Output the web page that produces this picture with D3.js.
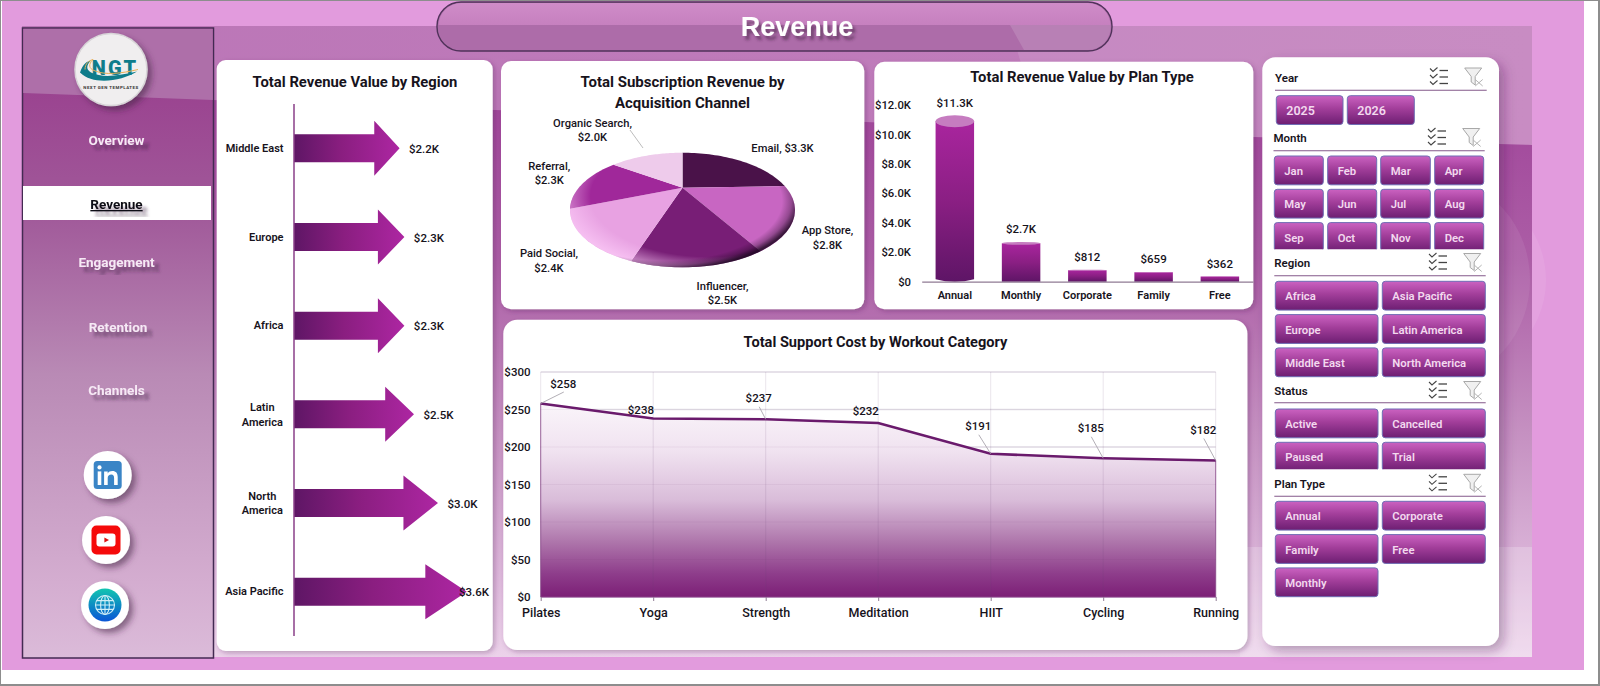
<!DOCTYPE html>
<html>
<head>
<meta charset="utf-8">
<script src="https://cdn.jsdelivr.net/npm/d3@7/dist/d3.min.js"></script>
<style>
  html, body { margin: 0; padding: 0; background: #fff; overflow: hidden; }
  svg { display: block; }
  text { font-family: Roboto, "Noto Sans", sans-serif; }
</style>
</head>
<body>
<svg id="dash" width="1600" height="686"></svg>
<script>
// ---- Data ----
const regionNames = ["Middle East", "Europe", "Africa", "Latin America", "North America", "Asia Pacific"];
const regionRevenue = [2.2, 2.3, 2.3, 2.5, 3.0, 3.6];

const channelNames = ["Email", "App Store", "Influencer", "Paid Social", "Referral", "Organic Search"];
const channelRevenue = [3.3, 2.8, 2.5, 2.4, 2.3, 2.0];

const planNames = ["Annual", "Monthly", "Corporate", "Family", "Free"];
const planRevenue = [11300, 2700, 812, 659, 362];
const planTicks = [0, 2000, 4000, 6000, 8000, 10000, 12000];

const workoutNames = ["Pilates", "Yoga", "Strength", "Meditation", "HIIT", "Cycling", "Running"];
const supportCost = [258, 238, 237, 232, 191, 185, 182];
const costTicks = [0, 50, 100, 150, 200, 250, 300];

const menuItems = ["Overview", "Revenue", "Engagement", "Retention", "Channels"];
const yearOptions = ["2025", "2026"];
const monthOptions = ["Jan", "Feb", "Mar", "Apr", "May", "Jun", "Jul", "Aug", "Sep", "Oct", "Nov", "Dec"];
const regionOptions = ["Africa", "Asia Pacific", "Europe", "Latin America", "Middle East", "North America"];
const statusOptions = ["Active", "Cancelled", "Paused", "Trial"];
const planOptions = ["Annual", "Corporate", "Family", "Free", "Monthly"];

// ---- Palette ----
const PINK = "#e29bdd";
const INK = "#17131c";
const pieColors = ["#4a1249", "#c866c2", "#781e76", "#e8a2e2", "#a0289a", "#eecbeb"];

const svg = d3.select("#dash");
const defs = svg.append("defs");

function linearGradient(id, stops, x2 = 0, y2 = 1, units) {
  const g = defs.append("linearGradient").attr("id", id)
    .attr("x1", 0).attr("y1", 0).attr("x2", x2).attr("y2", y2);
  if (units) g.attr("gradientUnits", units.type).attr("x1", units.x1).attr("y1", units.y1).attr("x2", units.x2).attr("y2", units.y2);
  stops.forEach(([o, c, a]) => g.append("stop").attr("offset", o).attr("stop-color", c).attr("stop-opacity", a === undefined ? 1 : a));
}
function dropShadow(id, dx, dy, blur, color, opacity) {
  defs.append("filter").attr("id", id).attr("x", "-30%").attr("y", "-30%").attr("width", "160%").attr("height", "160%")
    .append("feDropShadow").attr("dx", dx).attr("dy", dy).attr("stdDeviation", blur)
    .attr("flood-color", color).attr("flood-opacity", opacity);
}

linearGradient("panelLower", [[0, "#a0459a"], [0.3, "#ac5ea6"], [0.6, "#c590c1"], [0.85, "#dcb6da"], [1, "#ecd2ea"]]);
linearGradient("panelUpper", [[0, "#bb76b7"], [1, "#c27fbd"]], 1, 0);
linearGradient("sidebarFill", [[0, "#97388b"], [0.3, "#a15a9a"], [0.55, "#b98ab5"], [0.88, "#d4add0"], [1, "#dbbbd9"]]);
linearGradient("arrowFill", [[0, "#5e1665"], [0.45, "#8a1e80"], [1, "#ad26a2"]], 1, 0);
linearGradient("cylinderFill", [[0, "#a9259e"], [0.5, "#8a1f83"], [1, "#5e1566"]]);
linearGradient("buttonFill", [[0, "#cb62c1"], [0.45, "#a23e9a"], [1, "#6d1e72"]]);
linearGradient("pillUpper", [[0, "#cf8cc8"], [1, "#c680bf"]]);
linearGradient("globeFill", [[0, "#12c5b0"], [1, "#0a55d6"]]);
dropShadow("cardShadow", 2, 2, 2.5, "#4a1a50", 0.3);
dropShadow("bigShadow", 5, 5, 6, "#4a1a50", 0.35);
dropShadow("iconShadow", 4, 4, 3, "#3c1a40", 0.55);
dropShadow("titleShadow", 3, 4, 1.6, "#3c1a40", 0.55);
dropShadow("menuShadow", 5, 5, 1.4, "#3c1a40", 0.5);

// ---- Page background ----
svg.append("rect").attr("width", 1600).attr("height", 686).attr("fill", "#8d8d8d");
svg.append("rect").attr("x", 1).attr("y", 1).attr("width", 1597).attr("height", 683).attr("fill", "#fff");
svg.append("rect").attr("x", 2).attr("y", 1).attr("width", 1582).attr("height", 669).attr("fill", PINK);

const panel = { x: 22, y: 26, r: 1532, b: 657 };
svg.append("ellipse").attr("cx", 1440).attr("cy", 280).attr("rx", 106).attr("ry", 100).attr("fill", "#fff").attr("opacity", 0.08);
svg.append("rect").attr("x", panel.x).attr("y", panel.y).attr("width", panel.r - panel.x).attr("height", panel.b - panel.y).attr("fill", "url(#panelUpper)");

// Darker swoosh that sweeps across the panel behind the cards
const swooshTop = [[22, 93], [213, 100], [495, 110], [865, 122], [1253, 137], [1532, 145]];
const swooshArea = d3.area().x(d => d[0]).y0(panel.b).y1(d => d[1]).curve(d3.curveMonotoneX);
svg.append("path").attr("d", swooshArea(swooshTop)).attr("fill", "url(#panelLower)");
svg.append("path").attr("d", "M1010,26 L1532,26 L1532,145 L1253,137 L1040,128 Z").attr("fill", "#fff").attr("opacity", 0.1);
svg.append("ellipse").attr("cx", 1440).attr("cy", 280).attr("rx", 90).attr("ry", 100).attr("fill", "#fff").attr("opacity", 0.07);
svg.append("rect").attr("x", 1240).attr("y", 547).attr("width", 292).attr("height", 110).attr("fill", "#fff").attr("opacity", 0.22);

// ---- Title pill ----
const pill = svg.append("g");
pill.append("rect").attr("x", 437).attr("y", 2).attr("width", 675).attr("height", 49).attr("rx", 24)
  .attr("fill", "#ad6ca9").attr("stroke", "#50325a").attr("stroke-width", 1.4);
pill.append("path").attr("d", "M438.5,25 A23,23 0 0 1 461,3 L1088,3 A23,23 0 0 1 1110.5,25 Z").attr("fill", "url(#pillUpper)");
pill.append("path").attr("d", "M1010,25 L1110.5,25 A23,23 0 0 1 1088,50 L1024,50 Z").attr("fill", "#fff").attr("opacity", 0.14);
pill.append("text").attr("x", 797).attr("y", 35.5).attr("text-anchor", "middle").attr("fill", "#fff")
  .style("font-family", "'Liberation Sans', sans-serif").style("font-weight", 700).style("font-size", "27px")
  .attr("filter", "url(#titleShadow)").text("Revenue");

// ---- Sidebar ----
const side = svg.append("g");
side.append("rect").attr("x", 22.5).attr("y", 28).attr("width", 191).attr("height", 630)
  .attr("fill", "url(#sidebarFill)").attr("stroke", "#432a52").attr("stroke-width", 1.5);
side.append("path").attr("d", "M23.2,28.8 L212.8,28.8 L212.8,100 L23.2,93 Z").attr("fill", "#ae6fa9");
side.append("rect").attr("x", 23).attr("y", 186).attr("width", 188).attr("height", 34).attr("fill", "#fff");

const menuRow = { Overview: 140, Revenue: 204, Engagement: 261.5, Retention: 327, Channels: 390 };
side.selectAll("text.menu").data(menuItems).join("text")
  .attr("class", "menu")
  .attr("x", d => d === "Retention" ? 118 : 116.5)
  .attr("y", d => menuRow[d] + 5)
  .attr("text-anchor", "middle")
  .attr("fill", d => d === "Revenue" ? "#101014" : "#f6e9f5")
  .attr("text-decoration", d => d === "Revenue" ? "underline" : null)
  .attr("filter", "url(#menuShadow)")
  .style("font-weight", 700).style("font-size", "13.5px")
  .text(d => d);

// Company badge
const logo = side.append("g").attr("transform", "translate(111,69.5)");
logo.append("circle").attr("r", 36).attr("fill", "#f0eeef").attr("stroke", "#d8d5d8").attr("stroke-width", 1.5).attr("filter", "url(#iconShadow)");
logo.append("text").attr("x", 4).attr("y", 5).attr("text-anchor", "middle").attr("fill", "#0f7c8b")
  .style("font-weight", 900).style("font-size", "20px").style("letter-spacing", "2px").text("NGT");
logo.append("path").attr("d", "M-31,3 C-28,-6 -24,-8 -20,-9 C-25,-4 -25,0 -20,3 C-8,9 8,6 26,2 C10,12 -18,16 -31,3 Z").attr("fill", "#0f7c8b");
logo.append("path").attr("d", "M-26,0 C-26,-6 -22,-9 -18,-10 C-23,-5 -22,-1 -17,1 C-6,6 10,4 27,0").attr("fill", "none").attr("stroke", "#e8b057").attr("stroke-width", 1);
logo.append("text").attr("x", 0).attr("y", 19).attr("text-anchor", "middle").attr("fill", "#333")
  .style("font-weight", 700).style("font-size", "4.4px").style("letter-spacing", "0.5px").text("NEXT GEN TEMPLATES");

// Social buttons
function socialBadge(cx, cy, draw) {
  const g = side.append("g").attr("transform", `translate(${cx},${cy})`);
  g.append("circle").attr("r", 24).attr("fill", "#fff").attr("filter", "url(#iconShadow)");
  draw(g);
}
socialBadge(107.7, 475, g => {
  g.append("rect").attr("x", -14).attr("y", -14).attr("width", 28).attr("height", 28).attr("rx", 3.5).attr("fill", "#3a85c6");
  g.append("circle").attr("cx", -8.2).attr("cy", -7.6).attr("r", 2.1).attr("fill", "#fff");
  g.append("rect").attr("x", -10).attr("y", -3.6).attr("width", 3.6).attr("height", 13.6).attr("fill", "#fff");
  g.append("path").attr("d", "M-3.6,-3.6 H0 V-1.6 C1,-3.2 2.6,-4 4.6,-4 C8.4,-4 10,-1.8 10,2 V10 H6.4 V3 C6.4,0.8 5.6,-0.6 3.6,-0.6 C1.4,-0.6 0,0.8 0,3 V10 H-3.6 Z").attr("fill", "#fff");
});
socialBadge(106, 540, g => {
  g.append("rect").attr("x", -14.5).attr("y", -14.5).attr("width", 29).attr("height", 29).attr("rx", 5).attr("fill", "#f50a0a");
  g.append("rect").attr("x", -9.5).attr("y", -6.5).attr("width", 19).attr("height", 13).attr("rx", 3).attr("fill", "#fff");
  g.append("path").attr("d", "M-1.6,-2.6 L3,0 L-1.6,2.6 Z").attr("fill", "#d11");
});
socialBadge(105, 605, g => {
  g.append("circle").attr("r", 16.5).attr("fill", "url(#globeFill)");
  const lines = g.append("g").attr("fill", "none").attr("stroke", "#cfeef7").attr("stroke-width", 1.1);
  lines.append("circle").attr("r", 9.5);
  lines.append("ellipse").attr("rx", 4.4).attr("ry", 9.5);
  lines.append("path").attr("d", "M0,-9.5 V9.5 M-9.5,0 H9.5 M-8.4,-4.4 H8.4 M-8.4,4.4 H8.4");
});

// ---- Cards ----
function card(x, y, r, b, rx, filter) {
  return svg.append("rect").attr("x", x).attr("y", y).attr("width", r - x).attr("height", b - y)
    .attr("rx", rx).attr("fill", "#fff").attr("filter", `url(#${filter})`);
}
card(216.7, 60, 492.7, 651, 9, "cardShadow");
card(501, 61, 864.3, 309.3, 10, "cardShadow");
card(874.3, 61.7, 1253.3, 309.3, 10, "cardShadow");
card(503.3, 319.7, 1247.4, 650, 14, "cardShadow");
card(1262.3, 57.3, 1499, 646, 13, "bigShadow");

function chartTitle(lines, cx, y, lineGap, size) {
  const t = svg.append("g");
  lines.forEach((s, i) => t.append("text").attr("x", cx).attr("y", y + i * lineGap).attr("text-anchor", "middle")
    .attr("fill", INK).style("font-weight", 700).style("font-size", size + "px").text(s));
}

// ---- Revenue by region: horizontal block arrows ----
chartTitle(["Total Revenue Value by Region"], 355, 86.5, 0, 14.8);
const regionX = d3.scaleLinear().domain([0, 3.6]).range([294, 466.8]);
const regionY = d3.scaleBand().domain(regionNames).range([104, 636]);
const arrowHalf = 14, headHalf = 27.5, headShare = 0.24;
const arrowLine = d3.line();
const regionG = svg.append("g");
regionG.selectAll("path.arrow").data(regionNames).join("path")
  .attr("class", "arrow")
  .attr("fill", "url(#arrowFill)")
  .attr("d", (d, i) => {
    const x0 = regionX(0), tip = regionX(regionRevenue[i]);
    const neck = tip - (tip - x0) * headShare;
    const cy = regionY(d) + regionY.bandwidth() / 2;
    return arrowLine([[x0, cy - arrowHalf], [neck, cy - arrowHalf], [neck, cy - headHalf], [tip, cy], [neck, cy + headHalf], [neck, cy + arrowHalf], [x0, cy + arrowHalf]]) + "Z";
  });
regionG.append("line").attr("x1", regionX(0)).attr("x2", regionX(0)).attr("y1", 104).attr("y2", 636)
  .attr("stroke", "#8a3f88").attr("stroke-width", 1.5);
regionG.selectAll("text.val").data(regionNames).join("text")
  .attr("class", "val")
  .attr("x", (d, i) => Math.min(regionX(regionRevenue[i]) + 24.5, 474))
  .attr("y", d => regionY(d) + regionY.bandwidth() / 2 + 4.5)
  .attr("text-anchor", "middle").attr("fill", INK)
  .style("font-weight", 500).style("font-size", "11.5px")
  .text((d, i) => `$${regionRevenue[i].toFixed(1)}K`);
regionNames.forEach(name => {
  const cy = regionY(name) + regionY.bandwidth() / 2;
  const isWrapped = name === "Latin America" || name === "North America";
  const parts = isWrapped ? name.split(" ") : [name];
  parts.forEach((p, i) => {
    regionG.append("text")
      .attr("x", isWrapped ? 262.3 : 283.5)
      .attr("y", cy + 4 + (isWrapped ? (i - 0.5) * 14.5 : -0.5))
      .attr("text-anchor", isWrapped ? "middle" : "end")
      .attr("fill", INK).style("font-weight", 600).style("font-size", "11px").text(p);
  });
});

// ---- Subscription revenue by channel: tilted pie ----
chartTitle(["Total Subscription Revenue by", "Acquisition Channel"], 682.5, 87, 21, 15);
const pieBox = { cx: 682.5, cy: 210, rx: 112.5, ry: 57.3, apexY: 187.7 };
const slices = d3.pie().sort(null)(channelRevenue);
// Angles are foreshortened by the tilt, so the near side of the rim opens up
const tilted = a => a - 0.22 * Math.sin(a);
const rimPoint = a => {
  const t = tilted(a);
  return [pieBox.cx + pieBox.rx * Math.sin(t), pieBox.cy - pieBox.ry * Math.cos(t)];
};
const pieLine = d3.line();
const pieG = svg.append("g");
pieG.selectAll("path.slice").data(slices).join("path")
  .attr("class", "slice")
  .attr("fill", (d, i) => pieColors[i])
  .attr("d", d => {
    const n = 40;
    const rim = d3.range(n + 1).map(k => rimPoint(d.startAngle + (d.endAngle - d.startAngle) * k / n));
    return pieLine([[pieBox.cx, pieBox.apexY], ...rim]) + "Z";
  });
const lightRim = defs.append("radialGradient").attr("id", "rimLight").attr("cx", 0.62).attr("cy", 0.38).attr("r", 0.66);
[[0, 0], [0.8, 0], [1, 0.6]].forEach(([o, a]) => lightRim.append("stop").attr("offset", o).attr("stop-color", "#ffd2fb").attr("stop-opacity", a));
const darkRim = defs.append("radialGradient").attr("id", "rimDark").attr("cx", 0.42).attr("cy", 0.42).attr("r", 0.6);
[[0, 0], [0.87, 0], [0.94, 0.3], [1, 0.8]].forEach(([o, a]) => darkRim.append("stop").attr("offset", o).attr("stop-color", "#16041a").attr("stop-opacity", a));
["rimLight", "rimDark"].forEach(id => pieG.append("ellipse")
  .attr("cx", pieBox.cx).attr("cy", pieBox.cy).attr("rx", pieBox.rx).attr("ry", pieBox.ry).attr("fill", `url(#${id})`));

// Label block positions around the pie, relative to its apex
const pieLabelOffsets = [[100, -40], [145, 42.5], [40, 98], [-133.5, 65.5], [-133.2, -21.7], [-90, -65]];
channelNames.forEach((name, i) => {
  const [dx, dy] = pieLabelOffsets[i];
  const value = `$${channelRevenue[i].toFixed(1)}K`;
  const rows = name === "Email" ? [`${name}, ${value}`] : [`${name},`, value];
  rows.forEach((row, r) => pieG.append("text")
    .attr("x", pieBox.cx + dx).attr("y", pieBox.apexY + dy + 4 + r * 14.4)
    .attr("text-anchor", "middle").attr("fill", INK)
    .style("font-weight", 500).style("font-size", "11.2px").text(row));
});
pieG.append("line").attr("x1", 630).attr("y1", 130).attr("x2", 643).attr("y2", 148).attr("stroke", "#bdbdbd").attr("stroke-width", 1);

// ---- Revenue by plan type: cylinder columns ----
chartTitle(["Total Revenue Value by Plan Type"], 1082, 81.5, 0, 14.8);
const planX = d3.scaleBand().domain(planNames).range([921.7, 1253]);
const planY = d3.scaleLinear().domain([0, 12000]).range([281.7, 105]);
const planMoney = d => d === 0 ? "$0" : `$${(d / 1000).toFixed(1)}K`;
const planValue = d => d >= 1000 ? `$${(d / 1000).toFixed(1)}K` : `$${d}`;
const barG = svg.append("g");
const cylinderW = 38.5;
planNames.forEach((name, i) => {
  const v = planRevenue[i];
  const cx = planX(name) + planX.bandwidth() / 2;
  const base = planY(0), top = planY(v);
  // The cap flattens as columns get shorter, as it would seen from a fixed eye level
  const capRy = (base - top) * 0.036;
  const capY = top + capRy;
  const l = cx - cylinderW / 2, r = cx + cylinderW / 2;
  const footRy = (base - top) > 60 ? 2.5 : 0;
  barG.append("path")
    .attr("d", `M${l},${capY} L${l},${base - footRy} Q${cx},${base + footRy} ${r},${base - footRy} L${r},${capY} Z`)
    .attr("fill", "url(#cylinderFill)");
  barG.append("ellipse").attr("cx", cx).attr("cy", capY).attr("rx", cylinderW / 2).attr("ry", capRy).attr("fill", "#c67cc0");
  barG.append("text").attr("x", cx).attr("y", top - 13 + 4.5).attr("text-anchor", "middle").attr("fill", INK)
    .style("font-weight", 500).style("font-size", "11.5px").text(planValue(v));
});
const planAxisY = barG.append("g").attr("transform", "translate(911,0)")
  .call(d3.axisLeft(planY).tickValues(planTicks).tickFormat(planMoney).tickSize(0).tickPadding(0));
planAxisY.select(".domain").remove();
planAxisY.selectAll("text").attr("fill", INK).style("font-family", "Roboto").style("font-size", "11.3px").style("font-weight", 500);
const planAxisX = barG.append("g").attr("transform", `translate(0,${planY(0)})`)
  .call(d3.axisBottom(planX).tickSize(0).tickPadding(10));
planAxisX.select(".domain").attr("stroke", "#8f7a93").attr("stroke-width", 1.2);
planAxisX.selectAll("text").attr("fill", INK).style("font-family", "Roboto").style("font-size", "11px").style("font-weight", 600);

// ---- Support cost by workout category: area ----
chartTitle(["Total Support Cost by Workout Category"], 875.5, 346.5, 0, 14.6);
const costX = d3.scalePoint().domain(workoutNames).range([540.7, 1215.7]);
const costY = d3.scaleLinear().domain([0, 300]).range([597, 372]);
linearGradient("areaFill",
  [[0, "#faf5fa"], [0.25, "#f0e2f0"], [0.5, "#d9bcd9"], [0.72, "#ad74aa"], [0.88, "#8e3d8b"], [1, "#7c1f76"]],
  0, 1, { type: "userSpaceOnUse", x1: 0, y1: costY(258), x2: 0, y2: costY(0) });
const areaG = svg.append("g");
const costPoints = workoutNames.map((n, i) => ({ n, v: supportCost[i] }));
areaG.selectAll("line.hgrid").data(costTicks.slice(1)).join("line").attr("class", "hgrid")
  .attr("x1", costX.range()[0]).attr("x2", costX.range()[1]).attr("y1", d => costY(d)).attr("y2", d => costY(d))
  .attr("stroke", "#e4e0e8").attr("stroke-width", 1.4);
areaG.append("path")
  .attr("d", d3.area().x(d => costX(d.n)).y0(costY(0)).y1(d => costY(d.v))(costPoints))
  .attr("fill", "url(#areaFill)").attr("stroke", "#8d4a8c").attr("stroke-width", 0.8);
// Faint grid lines carried over the fill
areaG.selectAll("line.hgridOver").data(costTicks.slice(1)).join("line").attr("class", "hgridOver")
  .attr("x1", costX.range()[0]).attr("x2", costX.range()[1]).attr("y1", d => costY(d)).attr("y2", d => costY(d))
  .attr("stroke", "#6b4a70").attr("stroke-opacity", 0.07).attr("stroke-width", 1.2);
areaG.selectAll("line.vgrid").data(workoutNames).join("line").attr("class", "vgrid")
  .attr("x1", d => costX(d)).attr("x2", d => costX(d)).attr("y1", costY(300)).attr("y2", costY(0))
  .attr("stroke", "#6b4a70").attr("stroke-opacity", 0.14).attr("stroke-width", 1);
areaG.append("path")
  .attr("d", d3.line().x(d => costX(d.n)).y(d => costY(d.v))(costPoints))
  .attr("fill", "none").attr("stroke", "#6a1a6c").attr("stroke-width", 2.6);

const costAxisY = areaG.append("g").attr("transform", "translate(530.5,0)")
  .call(d3.axisLeft(costY).tickValues(costTicks).tickFormat(d => `$${d}`).tickSize(0).tickPadding(0));
costAxisY.select(".domain").remove();
costAxisY.selectAll("text").attr("fill", INK).style("font-family", "Roboto").style("font-size", "11.5px").style("font-weight", 500);
const costAxisX = areaG.append("g").attr("transform", `translate(0,${costY(0)})`)
  .call(d3.axisBottom(costX).tickSize(4).tickPadding(7).tickSizeOuter(0));
costAxisX.select(".domain").attr("stroke", "#b58ab8").attr("stroke-width", 1.2);
costAxisX.selectAll("line").attr("stroke", "#8f7a93");
costAxisX.selectAll("text").attr("fill", INK).style("font-family", "Roboto").style("font-size", "12.5px").style("font-weight", 500);

// Data labels sit where they stay clear of the line; far ones get a leader
const costLabelOffsets = [[22.6, -20], [-12.3, -9], [-7, -21], [-12.4, -12], [-12.4, -27.5], [-12.4, -30], [-12.4, -30.5]];
costPoints.forEach((p, i) => {
  const px = costX(p.n), py = costY(p.v);
  const lx = px + costLabelOffsets[i][0], ly = py + costLabelOffsets[i][1];
  if (costLabelOffsets[i][1] <= -20) {
    areaG.append("line").attr("x1", lx + 0.5).attr("y1", ly + 8.5).attr("x2", px).attr("y2", py)
      .attr("stroke", "#a9a5ad").attr("stroke-width", 0.9);
  }
  areaG.append("text").attr("x", lx).attr("y", ly + 4.2).attr("text-anchor", "middle").attr("fill", INK)
    .style("font-weight", 500).style("font-size", "11.5px").text(`$${p.v}`);
});

// ---- Slicer column ----
const slicerG = svg.append("g");
function funnelIcon(x, y) {
  const g = slicerG.append("g").attr("transform", `translate(${x},${y})`);
  g.append("path").attr("d", "M-9,-8.5 H8 L1.5,0 V8.5 L-2.5,5.5 V0 Z").attr("fill", "#f0f0f0").attr("stroke", "#a8a8a8").attr("stroke-width", 1);
  g.append("path").attr("d", "M1.5,3 L9,9.5 M9,3 L1.5,9.5").attr("stroke", "#b4b4b4").attr("stroke-width", 1);
}
function checklistIcon(x, y) {
  const g = slicerG.append("g").attr("transform", `translate(${x},${y})`)
    .attr("fill", "none").attr("stroke", "#444").attr("stroke-width", 1.1);
  [-6, 0.5, 7].forEach(dy => {
    g.append("path").attr("d", `M-9,${dy - 2} L-6,${dy + 1} L-1.5,${dy - 3}`);
    g.append("line").attr("x1", 0.5).attr("x2", 9).attr("y1", dy).attr("y2", dy).attr("stroke-width", 1.3);
  });
}
function slicer(cfg) {
  slicerG.append("text").attr("x", cfg.labelX).attr("y", cfg.labelY + 4.5).attr("fill", INK)
    .style("font-weight", 600).style("font-size", "11.5px").text(cfg.title);
  slicerG.append("line").attr("x1", cfg.labelX).attr("x2", cfg.ruleEnd).attr("y1", cfg.ruleY).attr("y2", cfg.ruleY)
    .attr("stroke", "#83598a").attr("stroke-width", 1.1);
  checklistIcon(cfg.ruleEnd - 47.7, cfg.labelY - 0.5);
  funnelIcon(cfg.ruleEnd - 13, cfg.labelY - 0.5);
  const clipId = "clip" + cfg.title.replace(/\W/g, "");
  defs.append("clipPath").attr("id", clipId).append("rect")
    .attr("x", 1262).attr("y", cfg.top - 2).attr("width", 237).attr("height", cfg.clipBottom - cfg.top + 2);
  const g = slicerG.append("g").attr("clip-path", `url(#${clipId})`);
  cfg.options.forEach((o, i) => {
    const col = i % cfg.cols.length, row = Math.floor(i / cfg.cols.length);
    const [x0, x1] = cfg.cols[col];
    const y0 = cfg.top + row * 33.3;
    g.append("rect").attr("x", x0).attr("y", y0).attr("width", x1 - x0).attr("height", 28.8).attr("rx", 3)
      .attr("fill", "url(#buttonFill)").attr("stroke", "#6f6db4").attr("stroke-width", 1);
    g.append("text").attr("x", x0 + 10).attr("y", y0 + 19).attr("fill", "#f3d9ef")
      .style("font-weight", 600).style("font-size", cfg.size || "11.3px").text(o);
  });
}
const twoCols = [[1275.3, 1378], [1382.3, 1485.3]];
slicer({ title: "Year", options: yearOptions, labelX: 1275, labelY: 77, ruleY: 90.3, ruleEnd: 1486.7, top: 95.7, clipBottom: 126, cols: [[1276.3, 1343], [1347.3, 1414.3]], size: "12.5px" });
slicer({ title: "Month", options: monthOptions, labelX: 1273.5, labelY: 137.5, ruleY: 150.7, ruleEnd: 1484.7, top: 156, clipBottom: 249.3, cols: [[1274.3, 1323.3], [1327.7, 1376.7], [1380.7, 1430.3], [1434.7, 1483.7]] });
slicer({ title: "Region", options: regionOptions, labelX: 1274.3, labelY: 262.5, ruleY: 275.7, ruleEnd: 1485.7, top: 281.3, clipBottom: 378, cols: twoCols });
slicer({ title: "Status", options: statusOptions, labelX: 1274.3, labelY: 390.5, ruleY: 402.7, ruleEnd: 1485.7, top: 409, clipBottom: 469.3, cols: twoCols });
slicer({ title: "Plan Type", options: planOptions, labelX: 1274.3, labelY: 483.3, ruleY: 496.3, ruleEnd: 1485.7, top: 501.3, clipBottom: 599, cols: twoCols });
</script>
</body>
</html>
